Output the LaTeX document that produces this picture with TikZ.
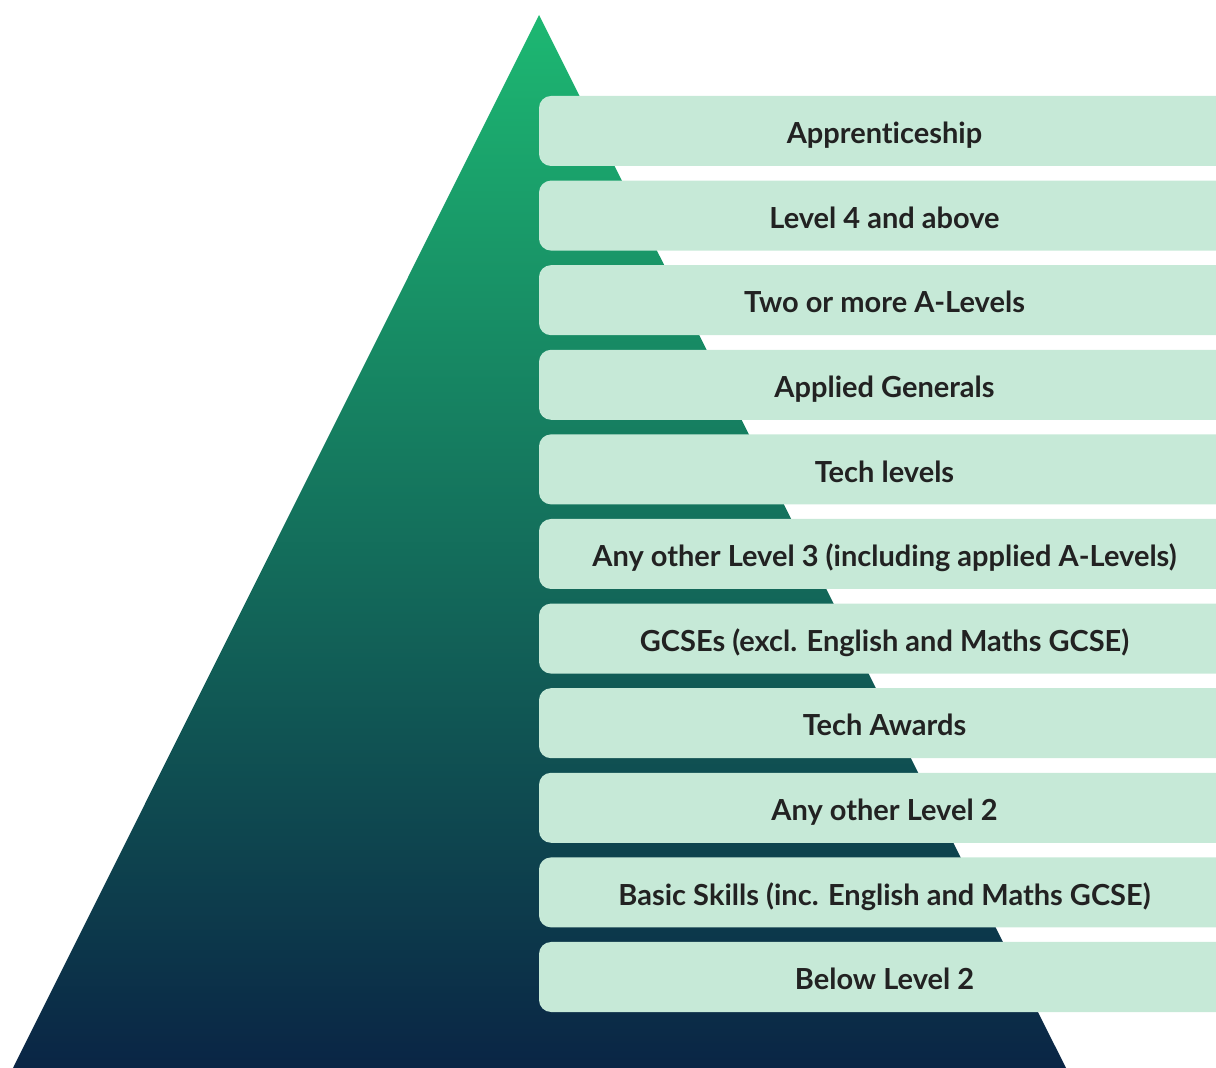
\documentclass[tikz,border=0pt]{standalone}
\usepackage{fontspec}
\setmainfont{Lato}[UprightFont=* Bold,Ligatures=NoCommon]
\usepackage{tikz}

\definecolor{topgreen}{HTML}{1DB872}
\definecolor{midteal}{HTML}{137060}
\definecolor{navy}{HTML}{0A2545}
\definecolor{mint}{HTML}{C6E9D7}
\definecolor{ink}{HTML}{222222}

\begin{document}
\begin{tikzpicture}[x=0.5pt,y=-0.5pt]
						\tikzstyle{level}=[rectangle,rounded corners=6pt,fill=mint,minimum width=345.5pt,minimum height=35pt,inner sep=0pt,text height=12.8pt,text depth=0pt,text=ink,font=\fontsize{14.5}{17}\selectfont]
						\useasboundingbox (0,0) rectangle (1216,1068);
						\clip (0,0) rectangle (1216,1068);
						\coordinate (apex) at (539,15);
						\coordinate (left) at (13,1068);
						\coordinate (right) at (1066,1068);
						\shade[top color=topgreen,middle color=midteal,bottom color=navy] (apex) -- (right) -- (left) -- cycle;
						\node[level] (1) at (884.5,131) {Apprenticeship};
						\node[level] (2) at (884.5,215.6) {Level 4 and above};
						\node[level] (3) at (884.5,300.2) {Two or more A-Levels};
						\node[level] (4) at (884.5,384.8) {Applied Generals};
						\node[level] (5) at (884.5,469.4) {Tech levels};
						\node[level] (6) at (884.5,554) {Any other Level 3 (including applied A-Levels)};
						\node[level] (7) at (884.5,638.6) {GCSEs (excl. English and Maths GCSE)};
						\node[level] (8) at (884.5,723.2) {Tech Awards};
						\node[level] (9) at (884.5,807.8) {Any other Level 2};
						\node[level] (10) at (884.5,892.4) {Basic Skills (inc. English and Maths GCSE)};
						\node[level] (11) at (884.5,977) {Below Level 2};
						\end{tikzpicture}
\end{document}
